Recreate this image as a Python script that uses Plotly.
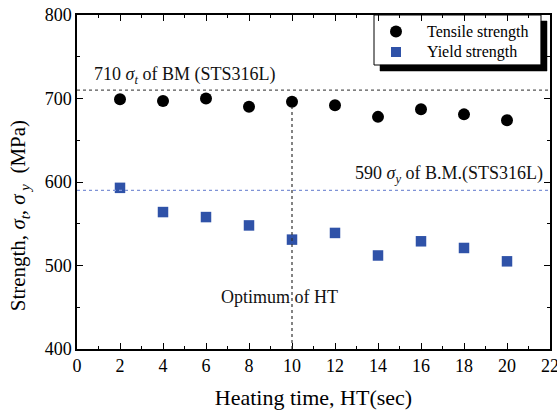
import plotly.graph_objects as go

heating_time = [2, 4, 6, 8, 10, 12, 14, 16, 18, 20]
tensile = [699, 697, 700, 690, 696, 692, 678, 687, 681, 674]
yield_s = [593, 564, 558, 548, 531, 539, 512, 529, 521, 505]
series_names = ["Tensile strength", "Yield strength"]
bm_tensile = 710
bm_yield = 590
optimum_ht = 10

FONT = "Liberation Serif, Times New Roman, serif"
C_T, C_Y = "black", "#2f52a8"

# pixel -> axis-unit helpers (plot area: x 77..550 px, y 15..349 px)
def dx(xp):
    return (xp - 77.0) / 473.0 * 22.0
def dy(yp):
    return 800.0 - (yp - 15.0) / 334.0 * 400.0

fig = go.Figure()

# legend frame: L-shaped drop shadow + outline
L, R, T, B, S = 374, 541, 15, 65, 6
shx = [dx(R), dx(R + S), dx(R + S), dx(L + S), dx(L + S), dx(R), dx(R)]
shy = [dy(T + S), dy(T + S), dy(B + S), dy(B + S), dy(B), dy(B), dy(T + S)]
fig.add_trace(go.Scatter(x=shx, y=shy, mode="lines", fill="toself", fillcolor="black",
                         line=dict(color="black", width=0.5), showlegend=False, hoverinfo="skip"))
fig.add_trace(go.Scatter(x=[dx(L), dx(R), dx(R), dx(L), dx(L)], y=[dy(B), dy(B), dy(T), dy(T), dy(B)],
                         mode="lines", line=dict(color="black", width=1),
                         showlegend=False, hoverinfo="skip"))

fig.add_trace(go.Scatter(x=heating_time, y=tensile, mode="markers", name=series_names[0],
                         marker=dict(symbol="circle", size=12, color=C_T), showlegend=False))
fig.add_trace(go.Scatter(x=heating_time, y=yield_s, mode="markers", name=series_names[1],
                         marker=dict(symbol="square", size=10.5, color=C_Y), showlegend=False))

# legend entries
fig.add_trace(go.Scatter(x=[dx(396)], y=[dy(31.5)], mode="markers", showlegend=False, hoverinfo="skip",
                         marker=dict(symbol="circle", size=12, color=C_T)))
fig.add_trace(go.Scatter(x=[dx(396)], y=[dy(52)], mode="markers", showlegend=False, hoverinfo="skip",
                         marker=dict(symbol="square", size=10, color=C_Y)))
for name, ypix in zip(series_names, [31.5, 52]):
    fig.add_annotation(x=dx(425), y=dy(ypix), xref="x", yref="y", text=name, showarrow=False,
                       xanchor="left", yanchor="middle", font=dict(family=FONT, size=16, color="black"))

# reference lines
fig.add_shape(type="line", xref="x", yref="y", x0=0, x1=22, y0=bm_tensile, y1=bm_tensile,
              line=dict(color="#555555", width=1.2, dash="dot"))
fig.add_shape(type="line", xref="x", yref="y", x0=0, x1=22, y0=bm_yield, y1=bm_yield,
              line=dict(color="#7f93d6", width=1.2, dash="dot"))
fig.add_shape(type="line", xref="x", yref="y", x0=optimum_ht, x1=optimum_ht, y0=400, y1=690,
              line=dict(color="#333333", width=1.2, dash="dot"))

fig.add_annotation(x=0.7, y=bm_tensile, xref="x", yref="y",
                   text="710 <i>σ</i><sub><i>t</i></sub> of BM (STS316L)",
                   showarrow=False, xanchor="left", yanchor="bottom", yshift=1,
                   font=dict(family=FONT, size=18, color="#111111"))
fig.add_annotation(x=21.75, y=bm_yield, xref="x", yref="y",
                   text="590 <i>σ</i><sub><i>y</i></sub> of B.M.(STS316L)",
                   showarrow=False, xanchor="right", yanchor="bottom", yshift=2,
                   font=dict(family=FONT, size=18, color="#111111"))
fig.add_annotation(x=9.4, y=462, xref="x", yref="y", text="Optimum of HT",
                   showarrow=False, font=dict(family=FONT, size=18, color="#111111"))

# y-axis title as annotation (offset downwards like the reference)
fig.add_annotation(x=-0.122, y=1 - (216 - 15) / 334.0, xref="paper", yref="paper", textangle=-90,
                   text="Strength, <i>σ</i><sub><i>t</i></sub>, <i>σ</i><sub> <i>y</i></sub>  (MPa)",
                   showarrow=False, xanchor="center", yanchor="middle",
                   font=dict(family=FONT, size=21, color="black"))

axis_common = dict(showline=True, linecolor="black", linewidth=1.5, mirror="ticks",
                   ticks="inside", ticklen=6, tickwidth=1.2, tickcolor="black",
                   showgrid=False, zeroline=False, automargin=False, ticklabeloverflow="allow",
                   tickfont=dict(family=FONT, size=18, color="black"))

fig.update_xaxes(range=[0, 22], dtick=2, tick0=0,
                 minor=dict(dtick=1, ticks="inside", ticklen=3, tickcolor="black", tickwidth=1),
                 title=dict(text="Heating time, HT(sec)", font=dict(family=FONT, size=22, color="black"),
                            standoff=14),
                 **axis_common)
fig.update_yaxes(range=[400, 800], dtick=100,
                 minor=dict(dtick=50, ticks="inside", ticklen=3, tickcolor="black", tickwidth=1),
                 **axis_common)

fig.update_layout(
    width=557, height=410,
    margin=dict(l=77, r=7, t=15, b=61),
    plot_bgcolor="white", paper_bgcolor="white",
    showlegend=False,
)

fig.write_html("out.html")
